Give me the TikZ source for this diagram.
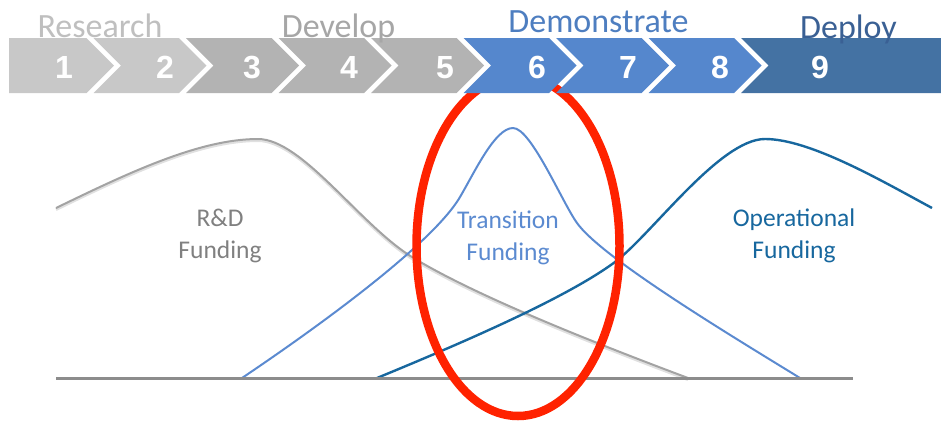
\documentclass[tikz,border=0pt]{standalone}
\usepackage{fontspec}
\setmainfont{Carlito}
\newfontfamily\numfont{Liberation Sans}
\usetikzlibrary{positioning}
\definecolor{barA}{HTML}{C8C8C8}
\definecolor{barB}{HTML}{B3B3B3}
\definecolor{barC}{HTML}{5587CD}
\definecolor{barD}{HTML}{4472A3}
\definecolor{rdgray}{HTML}{A3A3A3}
\definecolor{trblue}{HTML}{5B8AD0}
\definecolor{opblue}{HTML}{17679E}
\definecolor{ringred}{HTML}{FF2200}

\begin{document}
\begin{tikzpicture}[x=1pt,y=-1pt,
  num/.style={text=white,anchor=base,font=\numfont\bfseries\fontsize{32}{32}\selectfont},
  phase/.style={anchor=base,font=\fontsize{34}{40}\selectfont},
  lbl/.style={anchor=base,align=center,font=\fontsize{25.5}{32}\selectfont},
  curve/.style={line width=2pt,line join=round}]
\useasboundingbox (0,0) rectangle (941,421);
% funding curves
\draw[line width=3pt, black!12, yshift=-1.5pt] (56,208) .. controls (130,172) and (200,139) .. (258,139) .. controls (302,139) and (360,225) .. (412,257) .. controls (472,294) and (588,340.5) .. (688,378);
\draw[curve, rdgray] (56,208) .. controls (130,172) and (200,139) .. (258,139) .. controls (302,139) and (360,225) .. (412,257) .. controls (472,294) and (588,340.5) .. (688,378);
\draw[curve, trblue] (242,378) .. controls (300,339) and (430,248) .. (460,197) .. controls (475,171.5) and (495,128) .. (513,128) .. controls (531,128) and (562,202) .. (577,223) .. controls (602,258) and (730,335) .. (800,378);
\draw[curve, opblue, line width=2.4pt] (377,378) .. controls (457,345) and (565,299) .. (615,262) .. controls (652,234) and (720,139) .. (765,139) .. controls (810,139) and (882,181) .. (932,208);
\draw[line width=3pt, black!45] (56,378) -- (853,378);
\node[lbl, text=black!50] (rd) at (220,258) {R\&D\\Funding};
\node[lbl, text=trblue] (tr) at (508,260) {Transition\\Funding};
\node[lbl, text=opblue] (op) at (794,258) {Operational\\Funding};
% ring
\draw[line width=8.5pt, ringred] (518,246) ellipse [x radius=101.5pt, y radius=170pt];
% stage bar
\fill[barA] (9,38) -- (86.5,38) -- ++(27.5,27.5) -- ++(-27.5,27.5) -- (9,93) -- cycle;
\foreach \k/\c in {2/barA,3/barB,4/barB,5/barB,6/barC,7/barC,8/barC}
\fill[\c] ({90+(\k-2)*92.5+3.5},38) -- ({90+(\k-1)*92.5-3.5},38) -- ++(27.5,27.5) -- ++(-27.5,27.5) -- ({90+(\k-2)*92.5+3.5},93) -- ++(27.5,-27.5) -- cycle;
\fill[barD] (741,38) -- (941,38) -- (941,93) -- (741,93) -- ++(27.5,-27.5) -- cycle;
\foreach \k/\nx in {1/64,2/165,3/252,4/349,5/445,6/537,7/628,8/720,9/820}
\node[num] (n\k) at (\nx,78) {\k};
\node[phase, text=black!25] (research) at (100,37) {Research};
\node[phase, text=black!35] (develop) at (338.5,37) {Develop};
\node[phase, text={rgb,255:red,78;green,126;blue,192}] (demonstrate) at (598.5,32) {Demonstrate};
\node[phase, text={rgb,255:red,58;green,96;blue,148}] (deploy) at (848.5,38) {Deploy};
\end{tikzpicture}
\end{document}
